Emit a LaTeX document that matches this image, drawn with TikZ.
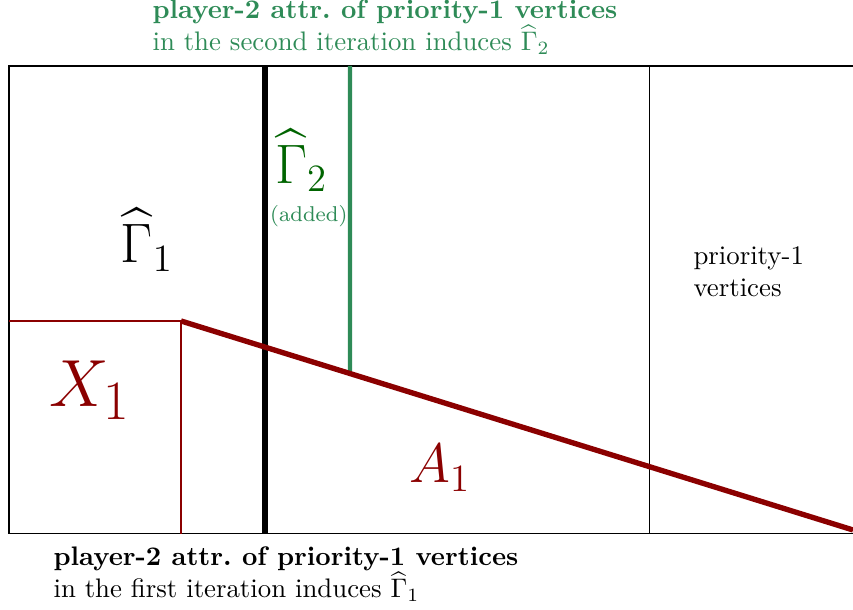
\documentclass[tikz,border=0pt]{standalone}
\usepackage{amsmath}
\definecolor{attrred}{RGB}{139,0,0}
\definecolor{attrgreen}{RGB}{46,139,87}
\definecolor{gammagreen}{RGB}{0,100,0}
\begin{document}
\begin{tikzpicture}[
  frame/.style={draw,line width=0.4pt},
  cut/.style={line width=2pt,black},
  attr/.style={line width=2pt,attrred},
  attrtwo/.style={line width=1.6pt,attrgreen},
  biglabel/.style={font=\huge,inner sep=0pt,anchor=base},
  note/.style={align=left,inner sep=0pt,anchor=base west}
]
  \useasboundingbox (-0.118,-0.996) rectangle (11.065,7.0);

  % corners of the vertex set
  \coordinate (bl) at (0,0);
  \coordinate (tl) at (0,6.135);
  \coordinate (tr) at (11.4,6.135);
  \coordinate (br) at (11.4,0);

  % first attractor boundary
  \coordinate (a0) at (2.255,2.792);
  \coordinate (a1) at (11.065,0.052);
  \coordinate (x0) at (0,2.792);
  \coordinate (x1) at (2.255,0);

  % cuts
  \coordinate (ctop) at (3.356,6.135);
  \coordinate (cbot) at (3.356,0);
  \coordinate (gtop) at (4.47,6.135);
  \coordinate (gbot) at (intersection of a0--a1 and gtop--{4.47,0});
  \coordinate (ptop) at (8.40,6.135);
  \coordinate (pbot) at (8.40,0);

  \draw[frame] (tr) -- (tl) -- (bl) -- (br);
  \draw[frame] (ptop) -- (pbot);
  \draw[attrred,line width=0.4pt] (x0) -- (a0) -- (x1);
  \draw[cut] (ctop) -- (cbot);
  \draw[attrtwo] (gtop) -- (gbot);
  \draw[attr] (a0) -- (a1);

  \node[biglabel] (gamma1) at (1.81,3.553) {$\widehat{\Gamma}_1$};
  \node[biglabel,font=\Huge,attrred] (xone) at (1.06,1.665) {$X_1$};
  \node[biglabel,attrred] (aone) at (5.65,0.669) {$A_1$};
  \node[biglabel,gammagreen] (gamma2) at (3.83,4.60) {$\widehat{\Gamma}_2$};
  \node[biglabel,font=\footnotesize,attrgreen] (added) at (3.93,4.09) {(added)};

  \node[note] (prio) at (8.967,3.107) {priority-1\\vertices};
  \node[note,attrgreen] (second) at (1.875,6.332)
    {\textbf{player-2 attr.\ of priority-1 vertices}\\
     in the second iteration induces $\widehat{\Gamma}_2$};
  \node[note] (first) at (0.577,-0.839)
    {\textbf{player-2 attr.\ of priority-1 vertices}\\
     in the first iteration induces $\widehat{\Gamma}_1$};
\end{tikzpicture}
\end{document}
